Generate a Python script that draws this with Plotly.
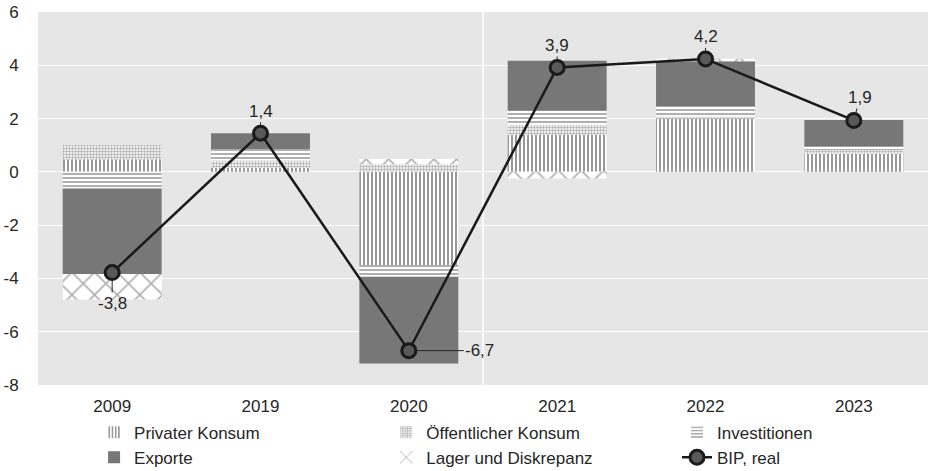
import plotly.graph_objects as go

years = ["2009", "2019", "2020", "2021", "2022", "2023"]
privater_konsum = [0.47, 0.15, -3.50, 1.39, 1.98, 0.67]
oeffentlicher_konsum = [0.53, 0.28, 0.29, 0.38, 0.10, 0.15]
investitionen = [-0.62, 0.42, -0.44, 0.52, 0.37, 0.13]
exporte = [-3.21, 0.60, -3.25, 1.88, 1.70, 1.00]
lager = [-0.96, 0.00, 0.19, -0.25, 0.10, 0.00]
bip = [-3.78, 1.45, -6.71, 3.92, 4.24, 1.93]
bip_labels = ["-3,8", "1,4", "-6,7", "3,9", "4,2", "1,9"]
y_ticks = [6, 4, 2, 0, -2, -4, -6, -8]
y_tick_labels = ["6", "4", "2", "0", "-2", "-4", "-6", "-8"]

TXT = "#262626"
FONT = "Liberation Sans, Arial, sans-serif"

fig = go.Figure()

def pat_bar(name, vals, shape, fg, size, solidity, legend):
    fig.add_trace(go.Bar(
        x=years, y=vals, name=name, legend=legend,
        marker=dict(color="white", line=dict(width=0),
                    pattern=dict(shape=shape, fgcolor=fg, bgcolor="white",
                                 size=size, solidity=solidity)),
    ))

pat_bar("Privater Konsum", privater_konsum, "|", "#1a1a1a", 4, 0.45, "legend")
pat_bar("Öffentlicher Konsum", oeffentlicher_konsum, ".", "#5e5e5e", 3, 0.5, "legend2")
pat_bar("Investitionen", investitionen, "-", "#606060", 4, 0.5, "legend3")
fig.add_trace(go.Bar(x=years, y=exporte, name="Exporte", legend="legend",
                     marker=dict(color="#777777", line=dict(width=0))))
pat_bar("Lager und Diskrepanz", lager, "x", "#606060", 16, 0.2, "legend2")

fig.add_trace(go.Scatter(
    x=years, y=bip, name="BIP, real", mode="lines+markers", legend="legend3",
    line=dict(color="#1a1a1a", width=2.5),
    marker=dict(size=14, color="#595959", line=dict(color="#1a1a1a", width=3)),
))

# annotations on a category axis: use the category index
offsets = [(0, 31), (0, -22), (71, 0), (0, -22), (0, -22), (6, -23)]
for i, (yv, lab, (ax, ay)) in enumerate(zip(bip, bip_labels, offsets)):
    fig.add_annotation(x=i, y=yv, text=lab, showarrow=True, arrowhead=0,
                       arrowwidth=1, arrowcolor="#262626", ax=ax, ay=ay,
                       standoff=7, font=dict(size=17, color=TXT, family=FONT))

fig.add_shape(type="line", xref="x", yref="paper", x0=2.5, x1=2.5, y0=0, y1=1,
              line=dict(color="white", width=1.5), layer="below")

leg_common = dict(orientation="v", traceorder="normal", yanchor="top", xanchor="left",
                  y=-0.0794, font=dict(size=17, color=TXT, family=FONT),
                  bgcolor="rgba(0,0,0,0)")

# figure is taller than the 471px window so the legend box never forces an
# automatic margin expansion; the visible part keeps the reference layout
fig.update_layout(
    width=930, height=500,
    margin=dict(l=38, r=2, t=12, b=115),
    paper_bgcolor="white", plot_bgcolor="#e6e6e6",
    barmode="relative", bargap=0.333,
    font=dict(family=FONT, size=17, color=TXT),
    hovermode=False,
    legend=dict(x=0.063, **leg_common),
    legend2=dict(x=0.3913, **leg_common),
    legend3=dict(x=0.718, **leg_common),
    xaxis=dict(type="category", range=[-0.5, len(years) - 0.5], showgrid=False,
               ticks="outside", ticklen=6, tickcolor="rgba(0,0,0,0)", automargin=False,
               tickfont=dict(size=17, color=TXT), showline=False, zeroline=False),
    yaxis=dict(range=[-8, 6], tickvals=y_ticks, ticktext=y_tick_labels,
               showgrid=True, gridcolor="white", gridwidth=1.2, zeroline=False,
               ticks="outside", ticklen=15, tickcolor="rgba(0,0,0,0)", automargin=False,
               tickfont=dict(size=17, color=TXT)),
)

# remove the browser's default 8px page margin so the figure sits at (0, 0)
fig.write_html("out.html", config={"displayModeBar": False},
               post_script="document.body.style.margin='0px';")
